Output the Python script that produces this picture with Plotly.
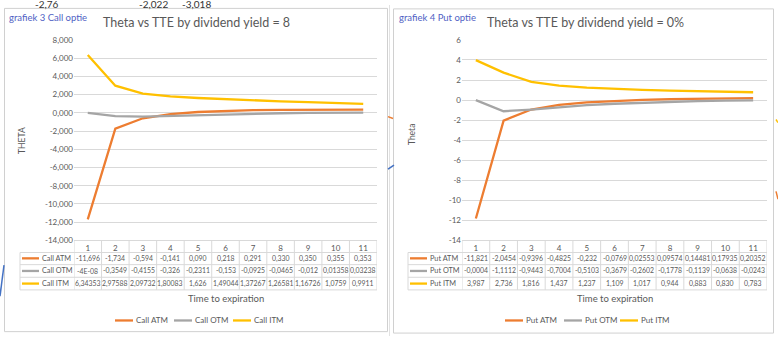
import plotly.graph_objects as go

W, H = 778, 341

# Time to expiration (category axis) and the theta values as they appear in the sheet (Dutch decimal comma)
tte = list(range(1, 12))
tte_labels = [str(t) for t in tte]

call_atm_txt = ["-11,696", "-1,734", "-0,594", "-0,141", "0,090", "0,218", "0,291", "0,330", "0,350", "0,355", "0,353"]
call_otm_txt = ["-4E-08", "-0,3549", "-0,4155", "-0,326", "-0,2311", "-0,153", "-0,0925", "-0,0465", "-0,012", "0,01358", "0,03238"]
call_itm_txt = ["6,34353", "2,97588", "2,09732", "1,80083", "1,626", "1,49044", "1,37267", "1,26581", "1,16726", "1,0759", "0,9911"]

put_atm_txt = ["-11,821", "-2,0454", "-0,9396", "-0,4825", "-0,232", "-0,0769", "0,02553", "0,09574", "0,14481", "0,17935", "0,20352"]
put_otm_txt = ["-0,0004", "-1,1112", "-0,9443", "-0,7004", "-0,5103", "-0,3679", "-0,2602", "-0,1778", "-0,1139", "-0,0638", "-0,0243"]
put_itm_txt = ["3,987", "2,736", "1,816", "1,437", "1,237", "1,109", "1,017", "0,944", "0,883", "0,830", "0,783"]

call_names = ["Call ATM", "Call OTM", "Call ITM"]
put_names = ["Put ATM", "Put OTM", "Put ITM"]

call_yticks = [8, 6, 4, 2, 0, -2, -4, -6, -8, -10, -12, -14]
call_yticklabels = ["8,000", "6,000", "4,000", "2,000", "0,000", "-2,000", "-4,000",
                    "-6,000", "-8,000", "-10,000", "-12,000", "-14,000"]
put_yticks = [6, 4, 2, 0, -2, -4, -6, -8, -10, -12, -14]
put_yticklabels = ["6", "4", "2", "0", "-2", "-4", "-6", "-8", "-10", "-12", "-14"]

COLORS = ["#ED7D31", "#A5A5A5", "#FFC000"]
TXT = "#595959"
GRID = "#D9D9D9"
FONT = "Lato, sans-serif"


def num(s):
    return float(s.replace(",", "."))


def px(x):
    return x / W


def py(y):
    return 1 - y / H


fig = go.Figure()
shapes = []
annotations = []

# Sheet background: chart panels, a column gridline and bits of neighbouring objects
shapes.append(dict(type="line", xref="paper", yref="paper", x0=px(389.5), x1=px(389.5), y0=0, y1=1,
                   line=dict(color="#E2E2E2", width=1), layer="below"))
for x0, y0, x1, y1 in [(4.5, 3.5, 387.5, 336.5), (393.5, 4, 773.5, 338)]:
    shapes.append(dict(type="rect", xref="paper", yref="paper", x0=px(x0), x1=px(x1), y0=py(y1), y1=py(y0),
                       fillcolor="white", line=dict(color="#D0D0D0", width=1), layer="below"))
for (x0, y0, x1, y1, c) in [(0, 300, 4, 268, "#4472C4"), (388, 115, 393, 117, "#ED7D31"),
                            (388, 169, 394, 165, "#4472C4"), (776, 118, 778, 121, "#FFC000"),
                            (776, 192, 778, 200, "#ED7D31")]:
    shapes.append(dict(type="line", xref="paper", yref="paper", x0=px(x0), x1=px(x1), y0=py(y0), y1=py(y1),
                       line=dict(color=c, width=1.5)))
for t, x in [("-2,76", 33), ("-2,022", 137), ("-3,018", 180)]:
    annotations.append(dict(text=t, xref="paper", yref="paper", x=px(x), y=py(-1), showarrow=False,
                            font=dict(family=FONT, size=10, color="#333333"), yanchor="middle"))

panels = [
    dict(xa="x", ya="y", names=call_names, data=[call_atm_txt, call_otm_txt, call_itm_txt],
         dom=(74, 377), label_left=20, yticks=call_yticks, yticklabels=call_yticklabels, yrange=[-14, 8],
         title="Theta vs TTE by dividend yield = 8", title_x=196, tag="grafiek 3 Call optie", tag_x=7,
         ytitle="THETA", ytitle_xy=(22, 140), xtitle_x=226, legend_text_x=[134, 193, 252]),
    dict(xa="x2", ya="y2", names=put_names, data=[put_atm_txt, put_otm_txt, put_itm_txt],
         dom=(462, 767), label_left=408, yticks=put_yticks, yticklabels=put_yticklabels, yrange=[-14, 6],
         title="Theta vs TTE by dividend yield = 0%", title_x=585, tag="grafiek 4 Put optie", tag_x=397,
         ytitle="Theta", ytitle_xy=(412, 134), xtitle_x=615, legend_text_x=[524, 583, 639]),
]

PLOT_TOP, PLOT_BOTTOM = 36, 242.5
ROW_EDGES = [242.5, 255, 267.5, 280.5, 293.5]
ROW_CENTERS = [261, 274, 287]

layout_axes = {}
for p in panels:
    xa_key = "xaxis" + p["xa"][1:]
    ya_key = "yaxis" + p["ya"][1:]
    for name, txt, col in zip(p["names"], p["data"], COLORS):
        fig.add_trace(go.Scatter(x=tte, y=[num(s) for s in txt], mode="lines", name=name,
                                 line=dict(color=col, width=2.3), xaxis=p["xa"], yaxis=p["ya"],
                                 showlegend=False, hoverinfo="skip"))

    layout_axes[xa_key] = dict(domain=[px(p["dom"][0]), px(p["dom"][1])], range=[0.5, 11.5],
                               anchor=p["ya"], tickvals=tte, ticktext=tte_labels, showgrid=False,
                               zeroline=False, showline=True, linecolor=GRID, ticks="",
                               tickfont=dict(family=FONT, size=8, color=TXT), fixedrange=True)
    layout_axes[ya_key] = dict(domain=[py(PLOT_BOTTOM), py(PLOT_TOP)], range=p["yrange"],
                               anchor=p["xa"], tickvals=p["yticks"], ticktext=p["yticklabels"],
                               showgrid=True, gridcolor=GRID, gridwidth=1, zeroline=False, showline=False,
                               ticks="", tickfont=dict(family=FONT, size=8, color=TXT), fixedrange=True)

    # Data table under the plot: column dividers in axis units, row rules in paper units
    for k in range(12):
        shapes.append(dict(type="line", xref=p["xa"], yref="paper", x0=0.5 + k, x1=0.5 + k,
                           y0=py(ROW_EDGES[0]), y1=py(ROW_EDGES[-1]), line=dict(color=GRID, width=1)))
    for ye in ROW_EDGES[1:]:
        shapes.append(dict(type="line", xref="paper", yref="paper", x0=px(p["label_left"]),
                           x1=px(p["dom"][1]), y0=py(ye), y1=py(ye), line=dict(color=GRID, width=1)))
    shapes.append(dict(type="line", xref="paper", yref="paper", x0=px(p["label_left"]), x1=px(p["label_left"]),
                       y0=py(ROW_EDGES[1]), y1=py(ROW_EDGES[-1]), line=dict(color=GRID, width=1)))
    for name, txt, col, yc in zip(p["names"], p["data"], COLORS, ROW_CENTERS):
        x0 = p["label_left"] + 2
        shapes.append(dict(type="line", xref="paper", yref="paper", x0=px(x0), x1=px(x0 + 17),
                           y0=py(yc), y1=py(yc), line=dict(color=col, width=2.3)))
        annotations.append(dict(text=name, xref="paper", yref="paper", x=px(x0 + 18), y=py(yc),
                                xanchor="left", yanchor="middle", showarrow=False,
                                font=dict(family=FONT, size=7.3, color=TXT)))
        for t, s in zip(tte, txt):
            annotations.append(dict(text=s, xref=p["xa"], yref="paper", x=t, y=py(yc),
                                    xanchor="center", yanchor="middle", showarrow=False,
                                    font=dict(family=FONT, size=6.9, color=TXT)))

    # Titles
    annotations.append(dict(text=p["title"], xref="paper", yref="paper", x=px(p["title_x"]), y=py(18),
                            xanchor="center", yanchor="middle", showarrow=False,
                            font=dict(family=FONT, size=12.5, color=TXT)))
    annotations.append(dict(text=p["tag"], xref="paper", yref="paper", x=px(p["tag_x"]), y=py(13),
                            xanchor="left", yanchor="middle", showarrow=False,
                            font=dict(family=FONT, size=9.5, color="#4F5FC4")))
    annotations.append(dict(text=p["ytitle"], xref="paper", yref="paper", x=px(p["ytitle_xy"][0]),
                            y=py(p["ytitle_xy"][1]), textangle=-90, xanchor="center", yanchor="middle",
                            showarrow=False, font=dict(family=FONT, size=8.5, color=TXT)))
    annotations.append(dict(text="Time to expiration", xref="paper", yref="paper", x=px(p["xtitle_x"]),
                            y=py(302), xanchor="center", yanchor="middle", showarrow=False,
                            font=dict(family=FONT, size=9.5, color=TXT)))

    # Legend row below the table
    for name, col, tx in zip(p["names"], COLORS, p["legend_text_x"]):
        shapes.append(dict(type="line", xref="paper", yref="paper", x0=px(tx - 19), x1=px(tx - 1),
                           y0=py(325), y1=py(325), line=dict(color=col, width=2.3)))
        annotations.append(dict(text=name, xref="paper", yref="paper", x=px(tx), y=py(325),
                                xanchor="left", yanchor="middle", showarrow=False,
                                font=dict(family=FONT, size=8, color=TXT)))

fig.update_layout(
    width=W, height=H, margin=dict(l=0, r=0, t=0, b=0),
    paper_bgcolor="white", plot_bgcolor="rgba(0,0,0,0)",
    showlegend=False, shapes=shapes, annotations=annotations,
    **layout_axes,
)

fig.write_html("out.html")
